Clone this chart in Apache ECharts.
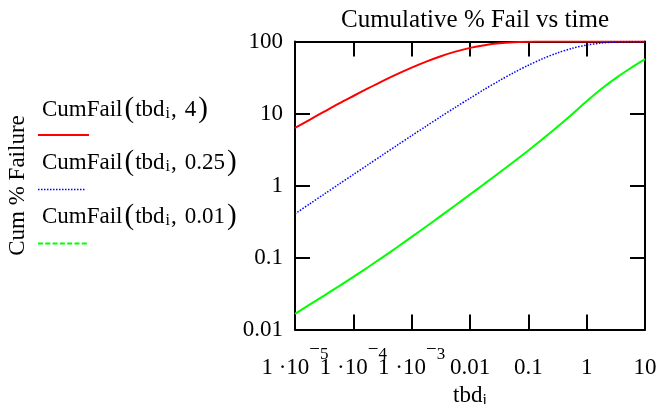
<!DOCTYPE html>
<html><head><meta charset="utf-8">
<script src="https://cdn.jsdelivr.net/npm/echarts@6/dist/echarts.min.js"></script>
<style>html,body{margin:0;padding:0;background:#fff}#c{width:663px;height:404px}</style>
</head><body><div id="c"></div>
<script>
// time values (quarter-decade steps)
const tbd = [1e-5, 1.778e-5, 3.162e-5, 5.623e-5, 1e-4, 1.778e-4, 3.162e-4, 5.623e-4, 1e-3, 1.778e-3, 3.162e-3, 5.623e-3,
             0.01, 0.01778, 0.03162, 0.05623, 0.1, 0.1778, 0.3162, 0.5623, 1, 1.778, 3.162, 5.623, 10];
// cumulative % failure
const cumFail4   = [6.30, 8.18, 10.6, 13.7, 17.5, 22.3, 28.2, 35.2, 43.4, 52.6, 62.5, 72.3,
                    81.5, 89.0, 94.5, 97.8, 99.3, 99.86, 99.98, 100, 100, 100, 100, 100, 100];
const cumFail025 = [0.404, 0.554, 0.758, 1.04, 1.42, 1.94, 2.65, 3.62, 4.93, 6.69, 9.06, 12.2,
                    16.3, 21.7, 28.5, 36.9, 46.8, 57.9, 69.4, 80.3, 89.2, 95.3, 98.5, 99.7, 99.96];
const cumFail001 = [0.0165, 0.0221, 0.0296, 0.0398, 0.0538, 0.0733, 0.1005, 0.1387, 0.193, 0.269, 0.378, 0.531,
                    0.750, 1.06, 1.50, 2.14, 3.07, 4.46, 6.56, 9.80, 14.8, 21.9, 31.0, 42.5, 56.9];
// tick positions and labels
const xTicks = [1e-5, 1e-4, 1e-3, 0.01, 0.1, 1, 10];
const xTickLabels = ['1 ·10|−5', '1 ·10|−4', '1 ·10|−3', '0.01', '0.1', '1', '10'];
const yTicks = [0.01, 0.1, 1, 10, 100];
const yTickLabels = ['0.01', '0.1', '1', '10', '100'];
const legendParams = ['4', '0.25', '0.01'];

const FONT = "'Liberation Serif','Times New Roman',serif";
const chart = echarts.init(document.getElementById('c'));

function pairs(ys) { return tbd.map((x, i) => [x, ys[i]]); }
function nearestIdx(arr, v) {
  let best = 0, bd = Infinity;
  arr.forEach((t, i) => { const d = Math.abs(Math.log10(t) - Math.log10(v)); if (d < bd) { bd = d; best = i; } });
  return best;
}
function xFmt(v) {
  const s = xTickLabels[nearestIdx(xTicks, v)];
  if (s.indexOf('|') >= 0) {
    const parts = s.split('|');
    return '{m|' + parts[0] + '}{n|' + parts[1][0] + '}{e|' + parts[1].slice(1) + '}';
  }
  return '{m|' + s + '}';
}
function yFmt(v) { return yTickLabels[nearestIdx(yTicks, v)]; }

// tiny margin so the end ticks are not dropped by floating-point rounding
const X_MIN = 0.99999e-5, X_MAX = 10.0001, Y_MIN = 0.0099999, Y_MAX = 100.001;

const axisLine = { show: true, lineStyle: { color: '#000', width: 2 } };
const xTick = { show: true, inside: true, length: 15, customValues: xTicks, lineStyle: { color: '#000', width: 2 } };
const yTick = { show: true, inside: true, length: 15, customValues: yTicks, lineStyle: { color: '#000', width: 2 } };

const xLabelRich = {
  m: { fontFamily: FONT, fontSize: 23, color: '#000', padding: [16, 0, 2, 0] },
  n: { fontFamily: FONT, fontSize: 19, color: '#000', padding: [0, 0, 22, 0] },
  e: { fontFamily: FONT, fontSize: 17, color: '#000', padding: [6, 0, 18, 0] }
};
// labels split over two axes so the crowded neighbours are never auto-hidden
const xLabelsA = xTicks.filter((t, i) => i !== 1);
const xLabelsB = [xTicks[1]];
function xLabel(values) {
  return { margin: 11, customValues: values, interval: 0, formatter: xFmt, hideOverlap: false,
           showMinLabel: true, showMaxLabel: true, rich: xLabelRich };
}

const legendRich = {
  a: { fontFamily: FONT, fontSize: 23, color: '#000' },
  p: { fontFamily: FONT, fontSize: 29, color: '#000', padding: [0, 1, 0, 2] },
  s: { fontFamily: FONT, fontSize: 16, color: '#000', padding: [9, 0, 0, 1] },
  c: { fontFamily: FONT, fontSize: 23, color: '#000', padding: [0, 8, 0, 1] }
};
const legendTops = [95, 148, 202];
const legendLineY = [135, 189.5, 243.5];
const legendLineStyles = [
  { stroke: '#ff0000', lineWidth: 2 },
  { stroke: '#0000ff', lineWidth: 1.5, lineDash: [1.5, 1.5] },
  { stroke: '#00ff00', lineWidth: 2, lineDash: [5, 2.3] }
];
const graphics = [];
legendParams.forEach((p, i) => {
  graphics.push({
    type: 'text', left: 42, top: legendTops[i],
    style: { text: '{a|CumFail}{p|(}{a|tbd}{s|i}{c|,}{a|' + p + '}{p|)}', rich: legendRich }
  });
  graphics.push({
    type: 'line', shape: { x1: 38, y1: legendLineY[i], x2: i === 1 ? 86 : 89, y2: legendLineY[i] },
    style: legendLineStyles[i]
  });
});

chart.setOption({
  animation: false,
  backgroundColor: '#fff',
  title: {
    text: 'Cumulative % Fail vs time', left: 470, top: 3, textAlign: 'center',
    textStyle: { fontFamily: FONT, fontSize: 25, fontWeight: 'normal', color: '#000' }
  },
  grid: { left: 295, right: 18, top: 41.5, bottom: 74.5, outerBoundsMode: 'none', containLabel: false },
  xAxis: [{
    type: 'log', logBase: 10, min: X_MIN, max: X_MAX,
    position: 'bottom',
    axisLine, axisTick: xTick, splitLine: { show: false }, minorTick: { show: false },
    axisLabel: xLabel(xLabelsA),
    name: '{a|tbd}{s|i}', nameLocation: 'middle', nameGap: 45,
    nameTextStyle: {
      rich: {
        a: { fontFamily: FONT, fontSize: 23, color: '#000' },
        s: { fontFamily: FONT, fontSize: 16, color: '#000', padding: [10, 0, 0, 0] }
      }
    }
  }, {
    type: 'log', logBase: 10, min: X_MIN, max: X_MAX, position: 'top',
    axisLine, axisTick: xTick, axisLabel: { show: false }, splitLine: { show: false }
  }, {
    type: 'log', logBase: 10, min: X_MIN, max: X_MAX, position: 'bottom',
    axisLine: { show: false }, axisTick: { show: false }, splitLine: { show: false },
    axisLabel: xLabel(xLabelsB)
  }],
  yAxis: [{
    type: 'log', logBase: 10, min: Y_MIN, max: Y_MAX,
    position: 'left',
    axisLine, axisTick: yTick, splitLine: { show: false }, minorTick: { show: false },
    axisLabel: { margin: 12, customValues: yTicks, interval: 0, formatter: yFmt, fontFamily: FONT, fontSize: 23, color: '#000',
                 padding: [6, 0, 0, 0], hideOverlap: false, showMinLabel: true, showMaxLabel: true },
    name: 'Cum % Failure', nameLocation: 'middle', nameRotate: 90, nameGap: 266,
    nameTextStyle: { fontFamily: FONT, fontSize: 23, color: '#000' }
  }, {
    type: 'log', logBase: 10, min: Y_MIN, max: Y_MAX, position: 'right',
    axisLine, axisTick: yTick, axisLabel: { show: false }, splitLine: { show: false }
  }],
  series: [
    { name: 'CumFail(tbd_i, 4)', type: 'line', data: pairs(cumFail4), showSymbol: false, smooth: 0.3,
      lineStyle: { color: '#ff0000', width: 2 }, itemStyle: { color: '#ff0000' } },
    { name: 'CumFail(tbd_i, 0.25)', type: 'line', data: pairs(cumFail025), showSymbol: false, smooth: 0.3,
      lineStyle: { color: '#0000ff', width: 1.5, type: [1.5, 1.5] }, itemStyle: { color: '#0000ff' } },
    { name: 'CumFail(tbd_i, 0.01)', type: 'line', data: pairs(cumFail001), showSymbol: false, smooth: 0.3,
      lineStyle: { color: '#00ff00', width: 2 }, itemStyle: { color: '#00ff00' } }
  ],
  graphic: graphics
});
</script></body></html>
